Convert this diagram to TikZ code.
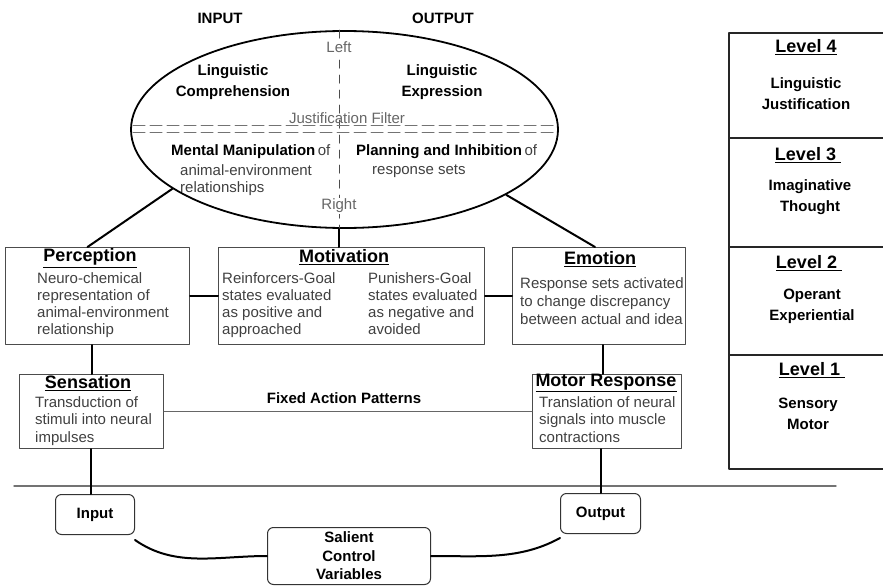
\documentclass[tikz,border=0pt]{standalone}
\usepackage{fontspec}
\setmainfont{Liberation Sans}
\usetikzlibrary{shapes.geometric}
\tikzset{
  box/.style={draw=black!70, line width=1pt, inner sep=0pt},
  roundbox/.style={draw=black!80, line width=1pt, rounded corners=6pt, inner sep=0pt},
  conn/.style={line width=2pt},
  thin/.style={draw=black!60, line width=1pt},
  panel/.style={draw=black!85, line width=1.6pt},
  title/.style={font=\fontsize{18}{20}\selectfont\bfseries, inner sep=0pt},
  head/.style={font=\fontsize{15}{21}\selectfont\bfseries, align=center, inner sep=0pt},
  body/.style={font=\fontsize{15}{17}\selectfont, text=black!75, align=left, inner sep=0pt, anchor=north west},
  note/.style={font=\fontsize{15}{17}\selectfont, text=black!60, inner sep=0pt},
}
\begin{document}
\begin{tikzpicture}[x=1pt,y=-1pt,line cap=round,line join=round]
\useasboundingbox (0,0) rectangle (883,586);

% brain
\node[draw, ellipse, line width=1.8pt, minimum width=427pt, minimum height=197pt] (brain) at (344.5,129.5) {};
\coordinate (mid) at (339,0);
\draw[black!70, line width=1pt, dash pattern=on 8pt off 7pt] (brain.north -| mid) -- (brain.south -| mid);
\draw[black!55, line width=1pt, dash pattern=on 12pt off 5pt] (133,125) -- (556,125);
\draw[black!55, line width=1pt, dash pattern=on 12pt off 5pt] (133,132) -- (556,132);

\node[head] (inlabel) at (220,18) {INPUT};
\node[head] (outlabel) at (443,18) {OUTPUT};
\node[note, fill=white, inner sep=1pt] (left) at (339,47) {Left};
\node[note, fill=white, inner sep=1pt] (right) at (339,206) {Right};
\node[note] (filter) at (347,118) {Justification Filter};
\node[head] (compr) at (233,82.5) {Linguistic\\Comprehension};
\node[head] (expr) at (442,82.5) {Linguistic\\Expression};
\node[body, anchor=west] (manip) at (171,152) {\textcolor{black}{\bfseries Mental Manipulation}\,of};
\node[body] (manip2) at (180,164) {animal-environment\\relationships};
\node[body, anchor=west] (plan) at (356,152) {\textcolor{black}{\bfseries Planning and Inhibition}\,of};
\node[body] (plan2) at (372,165) {response sets};

% middle row
\node[box, anchor=north west, minimum width=184pt, minimum height=97pt] (perception) at (5,247) {};
\node[box, anchor=north west, minimum width=266pt, minimum height=97pt] (motivation) at (218,247) {};
\node[box, anchor=north west, minimum width=173pt, minimum height=97pt] (emotion) at (512,247) {};
\node[title] (perctitle) at (90,258) {\underline{Perception}};
\node[body] (perctext) at (37,272) {Neuro-chemical\\representation of\\animal-environment\\relationship};
\node[title] (mottitle) at (344,257) {\underline{Motivation}};
\node[body] (reinf) at (222,272) {Reinforcers-Goal\\states evaluated\\as positive and\\approached};
\node[body] (punish) at (368,272) {Punishers-Goal\\states evaluated\\as negative and\\avoided};
\node[title] (emotitle) at (600,259) {\underline{Emotion}};
\node[body, font=\fontsize{15}{18}\selectfont] (emotext) at (520,277) {Response sets activated\\to change discrepancy\\between actual and idea};

% lower row
\node[box, anchor=north west, minimum width=144pt, minimum height=74pt] (sensation) at (19,374) {};
\node[box, anchor=north west, minimum width=149pt, minimum height=74pt] (motor) at (532,374) {};
\node[title] (senstitle) at (88,383) {\underline{Sensation}};
\node[body, font=\fontsize{15}{17.5}\selectfont] (senstext) at (35,396) {Transduction of\\stimuli into neural\\impulses};
\node[title] (mottitle2) at (606,383) {\underline{Motor Response}};
\node[body, font=\fontsize{15}{17.5}\selectfont] (motortext) at (539,396) {Translation of neural\\signals into muscle\\contractions};
\node[head] (fixed) at (344,398) {Fixed Action Patterns};

% connectors
\draw[conn] (brain.199) -- ([xshift=-10pt]perception.north);
\draw[conn] (brain.338.7) -- ([xshift=-4pt]emotion.north);
\draw[conn] (brain.south -| mid) -- (motivation.north -| mid);
\draw[conn] (perception) -- (motivation);
\draw[conn] (motivation) -- (emotion);
\draw[conn] (sensation.north) -- (sensation.north |- perception.south);
\draw[conn] ([xshift=-4pt]motor.north) -- ([xshift=-4pt]motor.north |- emotion.south);
\draw[thin] (sensation) -- (motor);

% environment
\draw[black!55, line width=1.4pt] (14,486) -- (836,486);
\node[roundbox, anchor=north west, minimum width=79pt, minimum height=40pt, font=\fontsize{15}{17}\selectfont\bfseries] (input) at (55,494) {Input};
\node[roundbox, anchor=north west, minimum width=80pt, minimum height=40pt, font=\fontsize{15}{17}\selectfont\bfseries] (output) at (560,493) {Output};
\node[roundbox, anchor=north west, minimum width=163pt, minimum height=57pt, font=\fontsize{15}{18.5}\selectfont\bfseries, align=center] (salient) at (267,527) {Salient\\Control\\Variables};
\draw[conn] ([xshift=-4pt]input.north) -- ([xshift=-4pt]input.north |- sensation.south);
\draw[conn] (output.north) -- (output.north |- motor.south);
\draw[conn] ([yshift=-5pt]input.south east) .. controls +(40,28) and +(-50,0) .. (salient.west);
\draw[conn] (salient.east) .. controls +(50,0) and +(-40,22) .. ([yshift=-4pt]output.south west);

% levels
\draw[panel] (890,33) -- (729,33) -- (729,469) -- (890,469);
\foreach \y in {138,247,355}
  \draw[panel] (729,\y) -- (890,\y);
\node[title] (lev4) at (806,47) {\underline{Level 4}};
\node[head] (lev4text) at (806,93.5) {Linguistic\\Justification};
\node[title] (lev3) at (808,155) {\underline{Level 3\ }};
\node[head] (lev3text) at (810,197.5) {Imaginative\\Thought};
\node[title] (lev2) at (809,263) {\underline{Level 2\ }};
\node[head] (lev2text) at (812,306) {Operant\\Experiential};
\node[title] (lev1) at (812,370) {\underline{Level 1\ }};
\node[head] (lev1text) at (808,414) {Sensory\\Motor};
\end{tikzpicture}
\end{document}
